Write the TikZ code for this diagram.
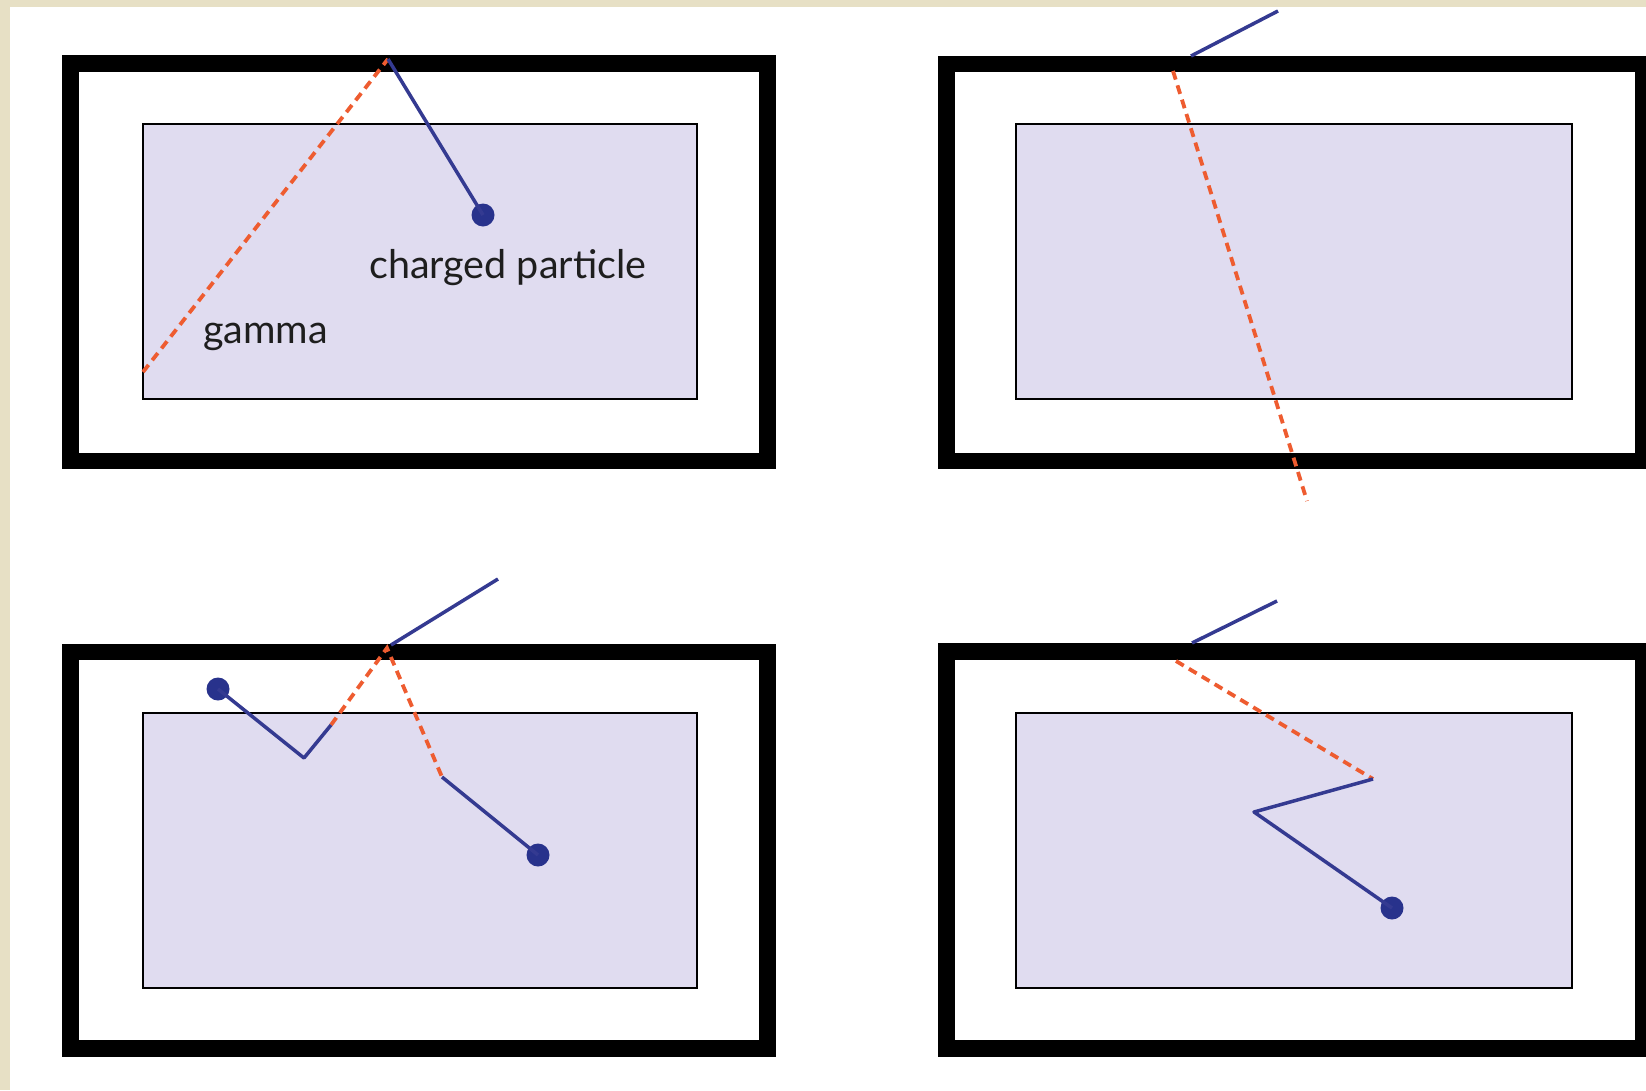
\documentclass[tikz,border=0pt]{standalone}
\usepackage{fontspec}
\setmainfont{Lato}
\definecolor{beige}{RGB}{231,224,197}
\definecolor{lav}{RGB}{224,220,240}
\definecolor{gammared}{RGB}{238,92,48}
\definecolor{trackblue}{RGB}{52,58,145}
\definecolor{dotblue}{RGB}{40,50,140}
\definecolor{txt}{RGB}{30,30,30}
\tikzset{
  frame/.style={draw=black, line width=16.5pt},
  detector/.style={draw=black, fill=lav, line width=2pt},
  gammaray/.style={draw=gammared, line width=3.8pt, dash pattern=on 9pt off 6pt},
  track/.style={draw=trackblue, line width=3.5pt, line join=round},
  dotnode/.style={circle, fill=dotblue, inner sep=0pt, minimum size=23pt},
  lbl/.style={anchor=base west, inner sep=0pt, text=txt, font=\fontsize{39.5}{44}\selectfont}
}
\begin{document}
\begin{tikzpicture}[x=1pt,y=-1pt]
\useasboundingbox (0,0) rectangle (1646,1090);
\clip (0,0) rectangle (1646,1090);
\fill[beige] (0,0) rectangle (1646,1090);
\fill[white] (10,7) rectangle (1646,1090);

% frames and detectors
\draw[frame] (70.5,63.5) rectangle (767.5,461);
\draw[detector] (143,124) rectangle (697,399);
\draw[frame] (946.5,64) rectangle (1643.5,461);
\draw[detector] (1016,124) rectangle (1572,399);
\draw[frame] (70.5,652) rectangle (767.5,1048.5);
\draw[detector] (143,713) rectangle (697,988);
\draw[frame] (946.5,651.5) rectangle (1643.5,1048.5);
\draw[detector] (1016,713) rectangle (1572,988);

% panel 1
\coordinate (g1s) at (143,372);
\coordinate (a1) at (388,59);
\node[dotnode] (d1) at (483,215) {};
\draw[gammaray] (g1s) -- (a1);
\draw[track] (a1) -- (d1.center);
\node[lbl] (cp) at (369,278) {charged particle};
\node[lbl] (gm) at (203,343) {gamma};

% panel 2
\coordinate (b2s) at (1278,11);
\coordinate (b2e) at (1191,56);
\coordinate (g2s) at (1173,71);
\coordinate (g2e) at (1307,501);
\draw[track] (b2s) -- (b2e);
\draw[gammaray] (g2s) -- (g2e);

% panel 3
\coordinate (b3s) at (498,579);
\coordinate (b3e) at (391,645);
\coordinate (g3a) at (331,725);
\coordinate (g3b) at (387,648);
\coordinate (g3c) at (442,777);
\coordinate (v3) at (304,758);
\node[dotnode] (d3a) at (218,689) {};
\node[dotnode] (d3b) at (538,855) {};
\draw[track] (b3s) -- (b3e);
\draw[gammaray] (g3a) -- (g3b) -- (g3c);
\draw[track] (d3a.center) -- (v3) -- (g3a);
\draw[track] (g3c) -- (d3b.center);

% panel 4
\coordinate (b4s) at (1277,601);
\coordinate (b4e) at (1192,643);
\coordinate (g4s) at (1176,661);
\coordinate (g4e) at (1373,779);
\coordinate (v4) at (1254,812);
\node[dotnode] (d4) at (1392,908) {};
\draw[track] (b4s) -- (b4e);
\draw[gammaray] (g4s) -- (g4e);
\draw[track] (g4e) -- (v4) -- (d4.center);
\end{tikzpicture}
\end{document}
